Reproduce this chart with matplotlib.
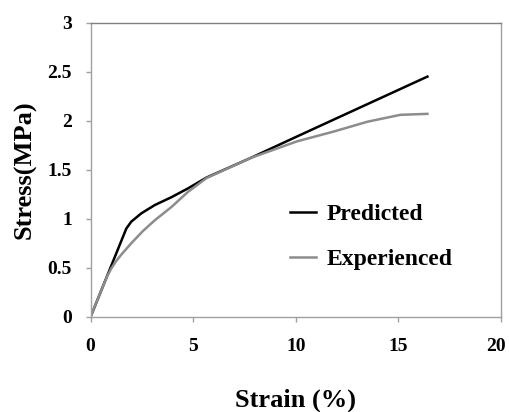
import matplotlib
matplotlib.use("Agg")
import matplotlib.pyplot as plt
from matplotlib.transforms import ScaledTranslation

# ---------------------------------------------------------------------------
# Data
# ---------------------------------------------------------------------------
pred_strain = [0, 1.74, 1.98, 2.47, 3.13, 3.94, 4.75, 5.65, 7.8, 10.07, 12.67, 16.42]
pred_stress = [0, 0.90, 0.97, 1.055, 1.14, 1.22, 1.31, 1.42, 1.62, 1.84, 2.09, 2.45]

exp_strain = [0, 0.5, 0.8, 1.0, 1.25, 1.5, 1.98, 2.55, 3.13, 3.94, 4.75, 5.65,
              7.8, 10.07, 11.86, 13.5, 15.1, 16.42]
exp_stress = [0, 0.26, 0.41, 0.49, 0.57, 0.635, 0.75, 0.875, 0.985, 1.12, 1.275,
              1.415, 1.62, 1.79, 1.89, 1.99, 2.06, 2.07]

x_ticks = [0, 5, 10, 15, 20]
y_ticks = [0, 0.5, 1, 1.5, 2, 2.5, 3]
y_labels = ["0", "0.5", "1", "1.5", "2", "2.5", "3"]

plt.rcParams["font.family"] = ["Liberation Serif", "DejaVu Serif"]
plt.rcParams["font.weight"] = "bold"

fig = plt.figure(figsize=(5.09, 4.12), dpi=100)
ax = fig.add_axes([0.178, 0.231, 0.806, 0.714])

ax.plot(pred_strain, pred_stress, color="black", lw=1.8, label="Predicted")
ax.plot(exp_strain, exp_stress, color="#8c8c8c", lw=1.8, label="Experienced")

ax.set_xlim(0, 20)
ax.set_ylim(0, 3)
ax.set_xticks(x_ticks)
ax.set_yticks(y_ticks)
ax.set_yticklabels(y_labels)
ax.tick_params(axis="both", labelsize=14, color="#a0a0a0", length=3.5, width=1)
for lab in ax.get_xticklabels() + ax.get_yticklabels():
    lab.set_fontweight("bold")
ax.tick_params(axis="x", pad=12)
ax.tick_params(axis="y", pad=10)

# the last x label sits a bit left of its tick in the reference
last = ax.get_xticklabels()[-1]
last.set_transform(last.get_transform() +
                   ScaledTranslation(-5 / 100, 0, fig.dpi_scale_trans))

for sp in ax.spines.values():
    sp.set_color("#a0a0a0")
    sp.set_linewidth(1.0)
ax.spines["top"].set_color("#808080")

ax.set_ylabel("Stress(MPa)", fontsize=19, fontweight="bold")
ax.yaxis.set_label_coords(-0.16, 0.5)
ax.yaxis.label.set_va("center")
ax.set_xlabel("Strain (%)", fontsize=19, fontweight="bold")
ax.xaxis.set_label_coords(0.5, -0.285)
ax.xaxis.label.set_va("center")

ax.legend(loc="center left", bbox_to_anchor=(290 / 509, 1 - 237 / 412),
          bbox_transform=fig.transFigure, frameon=False, borderpad=0,
          borderaxespad=0, prop={"size": 17, "weight": "bold"},
          handlelength=1.1, handletextpad=0.45, labelspacing=1.0)

fig.savefig("out.png", dpi=100)
